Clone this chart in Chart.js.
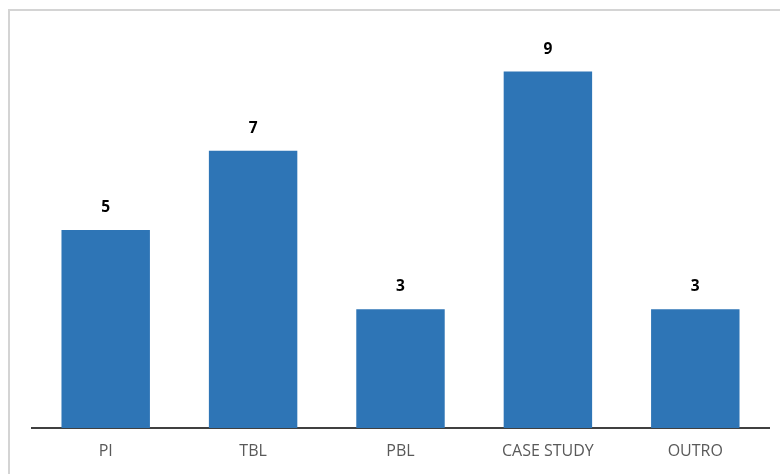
<!DOCTYPE html>
<html>
<head>
<meta charset="utf-8">
<script src="https://cdn.jsdelivr.net/npm/chart.js@4"></script>
<style>
  html, body { margin: 0; padding: 0; background: #ffffff; }
  #wrap { position: relative; width: 780px; height: 474px; }
</style>
</head>
<body>
<div id="wrap"><canvas id="chart" width="780" height="474"></canvas></div>
<script>
const categories = ["PI", "TBL", "PBL", "CASE STUDY", "OUTRO"];
const counts = [5, 7, 3, 9, 3];
const yMax = 10;

// Light frame around the chart
const framePlugin = {
  id: 'frame',
  beforeDraw(chart) {
    const ctx = chart.ctx;
    ctx.save();
    ctx.fillStyle = '#ffffff';
    ctx.fillRect(0, 0, chart.width, chart.height);
    ctx.strokeStyle = '#d4d4d4';
    ctx.lineWidth = 2;
    ctx.strokeRect(9, 10, chart.width + 20, chart.height + 20);
    ctx.restore();
  }
};

// Value labels above each bar
const valueLabels = {
  id: 'valueLabels',
  afterDatasetsDraw(chart) {
    const ctx = chart.ctx;
    const meta = chart.getDatasetMeta(0);
    ctx.save();
    ctx.fillStyle = '#000000';
    ctx.font = 'bold 15.5px "Open Sans", "Noto Sans", sans-serif';
    ctx.textAlign = 'center';
    ctx.textBaseline = 'middle';
    meta.data.forEach((bar, i) => {
      ctx.fillText(String(chart.data.datasets[0].data[i]), bar.x, bar.y - 22.5);
    });
    ctx.restore();
  }
};

new Chart(document.getElementById('chart'), {
  type: 'bar',
  data: {
    labels: categories,
    datasets: [{
      data: counts,
      backgroundColor: '#2e75b6',
      borderWidth: 0,
      categoryPercentage: 1.0,
      barPercentage: 0.6
    }]
  },
  options: {
    responsive: false,
    animation: false,
    layout: { padding: { left: 32, right: 11, top: 32, bottom: 0 } },
    plugins: {
      legend: { display: false },
      tooltip: { enabled: false }
    },
    scales: {
      x: {
        grid: { display: false, drawTicks: false },
        border: { display: true, color: '#404040', width: 2 },
        ticks: {
          color: '#595959',
          padding: 14,
          font: { family: '"Open Sans", "Noto Sans", sans-serif', size: 16 }
        },
        afterFit(scale) { scale.height = 46; }
      },
      y: {
        display: false,
        min: 0,
        max: yMax
      }
    }
  },
  plugins: [framePlugin, valueLabels]
});
</script>
</body>
</html>
